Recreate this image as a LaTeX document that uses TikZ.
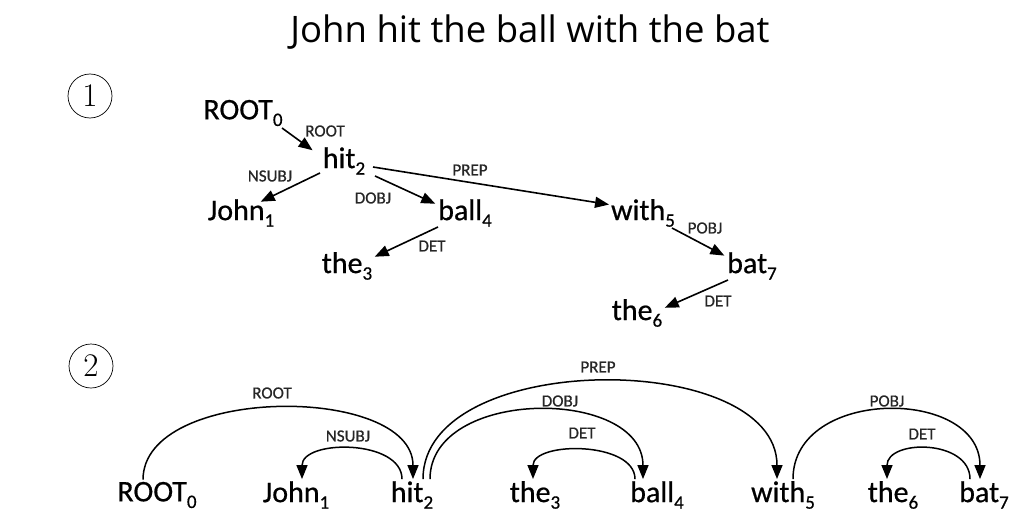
\documentclass[tikz,border=0pt]{standalone}
\usepackage{fontspec}
\setmainfont{Carlito}
\newfontfamily\titlefont{Open Sans}
\newfontfamily\wordfont[FakeBold=0.6]{Carlito}
\usetikzlibrary{arrows.meta}
\newcommand{\wsub}[1]{\raisebox{-0.22em}{\fontsize{19}{19}\selectfont #1}}
\tikzset{
  >={Triangle[length=14pt,width=11pt]},
  word/.style={font=\wordfont\fontsize{30}{32}\selectfont, inner sep=2pt},
  deplabel/.style={font=\wordfont\fontsize{17}{18}\selectfont, text=black!85},
  dep/.style={->, line width=1.6pt, shorten >=3pt},
  arc/.style={->, line width=1.5pt},
  circnum/.style={circle, draw, line width=0.7pt, minimum size=44pt, inner sep=0pt,
                  font=\fontfamily{lmr}\fontsize{33}{33}\selectfont}
}
\begin{document}
\begin{tikzpicture}[x=1pt,y=-1pt]
  \useasboundingbox (0,0) rectangle (1036,519);

  % Title and the two section marks.
  \node[font=\titlefont\fontsize{36.5}{40}\selectfont] (title) at (530,32) {John hit the ball with the bat};
  \node[circnum] (one) at (90,96) {1};
  \node[circnum] (two) at (91,366) {2};

  % First: the dependency tree.
  \node[word] (root0) at (243,113) {ROOT\wsub{0}};
  \node[word] (hit2) at (344,161) {hit\wsub{2}};
  \node[word] (john1) at (241,213) {John\wsub{1}};
  \node[word] (ball4) at (465,213) {ball\wsub{4}};
  \node[word] (the3) at (347,266) {the\wsub{3}};
  \node[word] (with5) at (643,213) {with\wsub{5}};
  \node[word] (bat7) at (752,266) {bat\wsub{7}};
  \node[word] (the6) at (637,313) {the\wsub{6}};

  \draw[dep] ([shift={(39,15)}]root0.center) -- ([shift={(-29,-9)}]hit2.center);
  \draw[dep] ([shift={(-24,12)}]hit2.center) -- ([shift={(17,-10)}]john1.center);
  \draw[dep] ([shift={(31,15)}]hit2.center) -- ([shift={(-27,-8)}]ball4.center);
  \draw[dep] ([shift={(29,6)}]hit2.center) -- ([shift={(-31,-8)}]with5.center);
  \draw[dep] ([shift={(-27,14)}]ball4.center) -- ([shift={(25,-8)}]the3.center);
  \draw[dep] ([shift={(29,15)}]with5.center) -- ([shift={(-25,-9)}]bat7.center);
  \draw[dep] ([shift={(-24,14)}]bat7.center) -- ([shift={(25,-4)}]the6.center);

  \node[deplabel] (lroot) at (325,131) {ROOT};
  \node[deplabel] (lnsubj) at (270,176) {NSUBJ};
  \node[deplabel] (ldobj) at (373,198) {DOBJ};
  \node[deplabel] (lprep) at (470,170) {PREP};
  \node[deplabel] (ldet) at (432,246) {DET};
  \node[deplabel] (lpobj) at (705,228) {POBJ};
  \node[deplabel] (ldetb) at (718,301) {DET};

  % Second: the same tree as arcs over the sentence.
  \node[word] (broot0) at (157,495) {ROOT\wsub{0}};
  \node[word] (bjohn1) at (296,495) {John\wsub{1}};
  \node[word] (bhit2) at (412,495) {hit\wsub{2}};
  \node[word] (bthe3) at (535,495) {the\wsub{3}};
  \node[word] (bball4) at (657,495) {ball\wsub{4}};
  \node[word] (bwith5) at (783,495) {with\wsub{5}};
  \node[word] (bthe6) at (893,495) {the\wsub{6}};
  \node[word] (bbat7) at (984,495) {bat\wsub{7}};

  \draw[arc] ([xshift=-14pt]broot0.north) .. controls +(0,-95) and +(0,-95) .. ([xshift=1pt]bhit2.north);
  \draw[arc] ([xshift=-10pt]bhit2.north) .. controls +(0,-40) and +(0,-40) .. ([xshift=6pt]bjohn1.north);
  \draw[arc] ([xshift=11pt]bhit2.north) .. controls +(0,-130) and +(0,-130) .. ([xshift=-6pt]bwith5.north);
  \draw[arc] ([xshift=18pt]bhit2.north) .. controls +(0,-92) and +(0,-92) .. ([xshift=-14pt]bball4.north);
  \draw[arc] ([xshift=-22pt]bball4.north) .. controls +(0,-38) and +(0,-38) .. ([xshift=-2pt]bthe3.north);
  \draw[arc] ([xshift=10pt]bwith5.north) .. controls +(0,-92) and +(0,-92) .. ([xshift=-4pt]bbat7.north);
  \draw[arc] ([xshift=-14pt]bbat7.north) .. controls +(0,-40) and +(0,-40) .. ([xshift=-6pt]bthe6.north);

  \node[deplabel] (blroot) at (272,393) {ROOT};
  \node[deplabel] (blnsubj) at (348,436) {NSUBJ};
  \node[deplabel] (blprep) at (598,367) {PREP};
  \node[deplabel] (bldobj) at (560,401) {DOBJ};
  \node[deplabel] (bldet) at (582,433) {DET};
  \node[deplabel] (blpobj) at (887,401) {POBJ};
  \node[deplabel] (bldetb) at (922,434) {DET};
\end{tikzpicture}
\end{document}
